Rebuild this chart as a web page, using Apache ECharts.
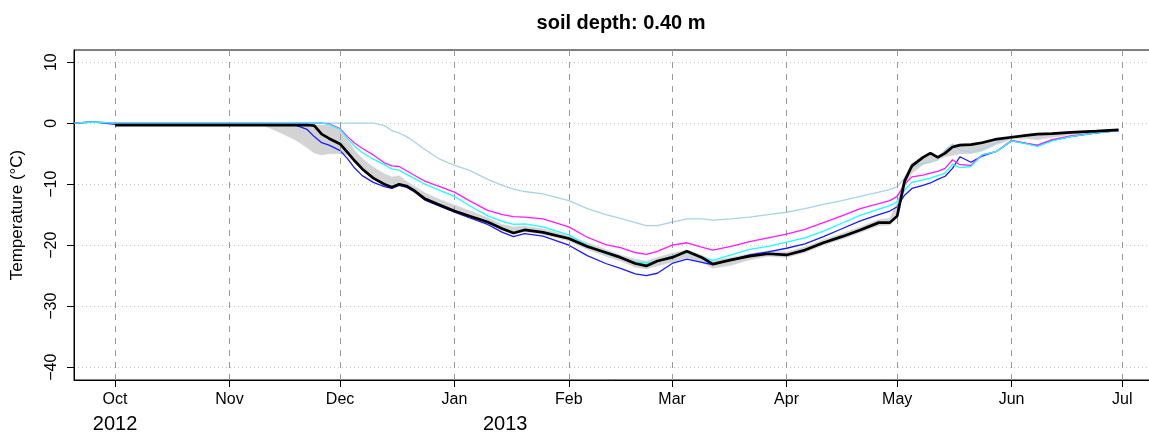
<!DOCTYPE html>
<html>
<head>
<meta charset="utf-8">
<title>soil depth: 0.40 m</title>
<script src="https://cdn.jsdelivr.net/npm/echarts@6/dist/echarts.min.js"></script>
<style>
    html, body { margin: 0; padding: 0; background: #fff; }
    #main { width: 1149px; height: 436px; }
</style>
</head>
<body>
<div id="main"></div>
<script>
// sample dates (UTC days)
var dates = ['2012-09-20', '2012-09-25', '2012-10-01', '2012-10-15', '2012-11-01', '2012-11-10', '2012-11-15',
    '2012-11-19', '2012-11-22', '2012-11-24', '2012-11-26', '2012-11-28', '2012-12-01', '2012-12-03',
    '2012-12-05', '2012-12-07', '2012-12-10', '2012-12-13', '2012-12-15', '2012-12-17', '2012-12-19',
    '2012-12-21', '2012-12-24', '2012-12-28', '2013-01-01', '2013-01-05', '2013-01-10', '2013-01-14',
    '2013-01-17', '2013-01-20', '2013-01-25', '2013-02-01', '2013-02-06', '2013-02-11', '2013-02-15',
    '2013-02-19', '2013-02-22', '2013-02-25', '2013-03-01', '2013-03-05', '2013-03-09', '2013-03-12',
    '2013-03-17', '2013-03-22', '2013-03-27', '2013-04-01', '2013-04-06', '2013-04-11', '2013-04-16',
    '2013-04-21', '2013-04-26', '2013-04-29', '2013-05-01', '2013-05-03', '2013-05-05', '2013-05-08',
    '2013-05-10', '2013-05-12', '2013-05-14', '2013-05-16', '2013-05-18', '2013-05-21', '2013-05-24',
    '2013-05-28', '2013-06-01', '2013-06-05', '2013-06-08', '2013-06-12', '2013-06-17', '2013-06-24',
    '2013-06-30'];

var observed = [null, null, -0.3, -0.3, -0.3, -0.3, -0.3,
    -0.3, -0.3, -0.4, -1.8, -2.5, -3.4, -4.8,
    -6.2, -7.5, -9.0, -10.0, -10.5, -10.0, -10.3,
    -11.0, -12.4, -13.4, -14.4, -15.2, -16.2, -17.3,
    -18.0, -17.5, -17.9, -18.9, -20.2, -21.2, -22.0,
    -23.0, -23.4, -22.6, -22.0, -21.0, -22.0, -23.1,
    -22.4, -21.8, -21.4, -21.6, -20.8, -19.6, -18.6,
    -17.5, -16.3, -16.3, -15.2, -9.5, -7.0, -5.6,
    -4.9, -5.6, -4.9, -3.9, -3.6, -3.5, -3.2,
    -2.6, -2.3, -2.0, -1.8, -1.7, -1.5, -1.3,
    -1.1];

var runBlue = [0, 0.2, -0.2, -0.3, -0.3, -0.3, -0.3,
    -0.3, -1.0, -2.2, -3.2, -3.6, -4.5, -5.8,
    -7.4, -8.6, -9.7, -10.4, -10.7, -10.2, -10.5,
    -11.2, -12.6, -13.6, -14.6, -15.5, -16.6, -17.9,
    -18.6, -18.1, -18.5, -20.0, -21.7, -23.0, -23.8,
    -24.7, -25.0, -24.6, -23.0, -22.3, -22.8, -23.2,
    -22.4, -21.6, -21.1, -20.5, -19.8, -18.6, -17.3,
    -16.0, -15.0, -14.4, -13.7, -11.8, -10.7, -10.2,
    -9.8, -9.2, -8.7, -7.4, -5.5, -6.4, -5.4,
    -4.6, -2.9, -3.3, -3.7, -2.8, -2.2, -1.6,
    -1.2];

var runMagenta = [0, 0.2, 0, 0, 0, 0, 0,
    0, 0, 0, 0, -0.1, -0.9, -2.2,
    -3.3, -4.1, -5.2, -6.5, -7.0, -7.1, -7.8,
    -8.5, -9.5, -10.4, -11.3, -12.7, -14.3, -15.0,
    -15.3, -15.4, -15.7, -17.0, -18.7, -19.9, -20.4,
    -21.2, -21.5, -21.0, -20.0, -19.6, -20.3, -20.8,
    -20.2, -19.4, -18.8, -18.2, -17.4, -16.3, -15.2,
    -14.0, -13.2, -12.7, -12.0, -10.0, -8.8, -8.5,
    -8.2, -7.9, -7.4, -6.0, -6.8, -6.9, -5.2,
    -4.6, -2.8, -3.3, -3.6, -2.7, -2.1, -1.6,
    -1.2];

var runCyan = [0, 0.2, 0, 0, 0, 0, 0,
    0, 0, 0, 0, -0.2, -1.0, -2.5,
    -3.8, -4.8, -5.9, -6.8, -7.5, -7.7, -8.4,
    -9.0, -10.0, -11.0, -12.0, -13.5, -15.2, -16.1,
    -16.6, -16.5, -17.0, -18.3, -20.0, -21.4, -22.1,
    -22.8, -22.9, -22.6, -21.8, -21.2, -22.0, -22.5,
    -21.6, -20.7, -20.2, -19.5, -18.8, -17.7, -16.4,
    -15.1, -14.1, -13.5, -12.9, -11.0, -9.7, -9.3,
    -9.0, -8.6, -8.2, -6.7, -7.3, -7.1, -5.2,
    -4.6, -2.9, -3.4, -3.8, -2.9, -2.2, -1.6,
    -1.2];

var runLightBlue = [0, 0.2, 0, 0, 0, 0, 0,
    0, 0, 0, 0, 0, 0, 0,
    0, 0, 0, -0.4, -1.2, -1.6, -2.2,
    -3.0, -4.3, -5.9, -6.9, -7.7, -9.2, -10.2,
    -10.8, -11.2, -11.6, -12.7, -14.0, -15.0, -15.6,
    -16.3, -16.8, -16.8, -16.2, -15.7, -15.7, -15.9,
    -15.7, -15.4, -15.0, -14.6, -14.0, -13.3, -12.7,
    -12.0, -11.3, -10.9, -10.4, -9.0, -7.2, -6.6,
    -6.4, -6.0, -4.4, -3.4, -4.4, -4.8, -4.2,
    -3.2, -2.3, -2.1, -2.0, -1.8, -1.6, -1.4,
    -1.2];

// ensemble range (grey band)
var bandLow = [null, null, null, null, null, -0.3, -1.6,
    -2.8, -4.0, -4.9, -5.2, -5.0, -5.0, -5.2,
    -6.3, -7.6, -9.1, -10.1, -10.6, -10.2, -10.5,
    -11.2, -12.6, -13.6, -14.6, -15.5, -16.6, -17.6,
    -18.2, -17.8, -18.2, -19.3, -20.7, -21.8, -22.6,
    -23.6, -23.9, -23.4, -22.8, -22.0, -22.8, -23.8,
    -23.3, -22.4, -21.8, -22.0, -21.2, -20.0, -19.0,
    -17.9, -16.8, -16.7, -15.5, -10.5, -8.2, -6.8,
    -6.4, -6.0, -5.5, -5.3, -5.0, -5.0, -4.6,
    -3.5, -2.6, -2.5, -2.7, -2.3, -1.9, -1.5,
    -1.2];

var bandHigh = [null, null, null, null, null, 0, 0,
    -0.2, -0.3, -0.3, -0.3, -0.3, -1.0, -2.6,
    -4.5, -5.8, -7.2, -8.3, -8.8, -8.6, -9.5,
    -10.3, -11.4, -12.5, -13.4, -14.3, -15.5, -16.6,
    -17.0, -16.9, -17.3, -18.4, -19.6, -20.7, -21.6,
    -22.3, -22.6, -22.0, -21.3, -20.8, -21.6, -22.5,
    -22.0, -21.4, -20.9, -21.1, -20.3, -19.1, -18.1,
    -17.0, -15.8, -15.6, -13.0, -8.8, -6.5, -5.4,
    -4.8, -5.3, -4.5, -3.6, -3.4, -3.3, -3.0,
    -2.5, -2.1, -1.9, -1.7, -1.6, -1.4, -1.2,
    -1.1];

var monthTicks = ['2012-10-01', '2012-11-01', '2012-12-01', '2013-01-01', '2013-02-01',
    '2013-03-01', '2013-04-01', '2013-05-01', '2013-06-01', '2013-07-01'];
var monthNames = ['Jan', 'Feb', 'Mar', 'Apr', 'May', 'Jun', 'Jul', 'Aug', 'Sep', 'Oct', 'Nov', 'Dec'];
var yearTicks = ['2012-10-01', '2013-01-14T18:00'];
var yTicks = [-40, -30, -20, -10, 0, 10];

var soilChart = (function () {
    var FONT = 'Liberation Sans, Arial, Helvetica, sans-serif';
    var Return = {
        init: function () {
            initChart();
        }
    }
    var utc = function (s) {
        var p = s.split('T');
        var d = p[0].split('-');
        var h = p[1] ? +p[1].split(':')[0] : 0;
        return Date.UTC(+d[0], +d[1] - 1, +d[2], h);
    }
    var pairs = function (arr) {
        return dates.map(function (d, i) { return [utc(d), arr[i]]; });
    }
    var lineSeries = function (name, arr, color, width, z) {
        return {
            name: name,
            type: 'line',
            data: pairs(arr),
            showSymbol: false,
            symbol: 'none',
            smooth: false,
            z: z,
            lineStyle: { color: color, width: width },
            itemStyle: { color: color }
        };
    }
    var initChart = function () {
        var myChart = echarts.init(document.getElementById('main'));
        var bandData = [];
        dates.forEach(function (d, i) {
            if (bandLow[i] !== null && bandHigh[i] !== null) {
                bandData.push([utc(d), bandLow[i], bandHigh[i]]);
            }
        });
        var monthVals = monthTicks.map(utc);
        var yearVals = yearTicks.map(utc);
        var xMin = utc('2012-09-19T21:00');
        var xMax = utc('2013-07-08T19:00');

        // grey range polygon: upper edge forward, lower edge back
        var renderBand = function (params, api) {
            if (params.dataIndex !== 0) {
                return null;
            }
            var pts = [];
            var i;
            for (i = 0; i < bandData.length; i++) {
                pts.push(api.coord([bandData[i][0], bandData[i][2]]));
            }
            for (i = bandData.length - 1; i >= 0; i--) {
                pts.push(api.coord([bandData[i][0], bandData[i][1]]));
            }
            return {
                type: 'polygon',
                shape: { points: pts },
                style: { fill: '#d3d3d3', stroke: '#d3d3d3', lineWidth: 0.5 }
            };
        }

        var option = {
            animation: false,
            backgroundColor: '#fff',
            title: {
                text: 'soil depth: 0.40 m',
                left: 616,
                top: 8,
                textAlign: 'center',
                textStyle: { fontFamily: FONT, fontSize: 20, fontWeight: 'bold', color: '#000' }
            },
            grid: {
                left: 74,
                right: -2,
                top: 50,
                bottom: 56,
                outerBoundsMode: 'none',
                containLabel: false,
                show: true,
                borderColor: '#000',
                borderWidth: 1,
                backgroundColor: 'transparent'
            },
            xAxis: [{
                type: 'value',
                min: xMin,
                max: xMax,
                axisLine: { onZero: false, lineStyle: { color: '#000', width: 1 } },
                axisTick: { show: true, length: 7, customValues: monthVals, lineStyle: { color: '#000' } },
                axisLabel: {
                    customValues: monthVals,
                    margin: 12,
                    fontFamily: FONT,
                    fontSize: 16,
                    color: '#000',
                    formatter: function (v) {
                        return monthNames[new Date(v).getUTCMonth()];
                    }
                },
                splitLine: { show: false }
            }, {
                type: 'value',
                position: 'bottom',
                min: xMin,
                max: xMax,
                axisLine: { show: false, onZero: false },
                axisTick: { show: false },
                axisLabel: {
                    customValues: yearVals,
                    margin: 34,
                    fontFamily: FONT,
                    fontSize: 20,
                    color: '#000',
                    formatter: function (v) {
                        return String(new Date(v).getUTCFullYear());
                    }
                },
                splitLine: { show: false }
            }],
            yAxis: {
                type: 'value',
                min: -42.1,
                max: 12,
                name: 'Temperature (°C)',
                nameLocation: 'middle',
                nameGap: 48,
                nameRotate: 90,
                nameTextStyle: { fontFamily: FONT, fontSize: 17, color: '#000' },
                axisLine: { show: true, lineStyle: { color: '#000', width: 1 } },
                axisTick: { show: true, length: 7, customValues: yTicks, lineStyle: { color: '#000' } },
                axisLabel: {
                    customValues: yTicks,
                    rotate: 90,
                    margin: 14,
                    fontFamily: FONT,
                    fontSize: 16,
                    color: '#000',
                    formatter: function (v) {
                        return v < 0 ? '\u2212' + Math.abs(v) : String(v);
                    }
                },
                splitLine: {
                    show: true,
                    lineStyle: { color: '#c8c8c8', width: 1, type: [1, 3] }
                }
            },
            series: [{
                name: 'range',
                type: 'custom',
                renderItem: renderBand,
                data: bandData,
                encode: { x: 0, y: [1, 2] },
                z: 1,
                silent: true,
                clip: true
            }, {
                name: 'months',
                type: 'line',
                data: [],
                z: 2,
                markLine: {
                    silent: true,
                    symbol: ['none', 'none'],
                    label: { show: false },
                    lineStyle: { color: '#9a9a9a', width: 1, type: [6, 6] },
                    data: monthVals.map(function (t) { return { xAxis: t }; })
                }
            },
                lineSeries('lightblue', runLightBlue, '#a6d4e6', 1.3, 3),
                lineSeries('blue', runBlue, '#1a1aff', 1.3, 4),
                lineSeries('magenta', runMagenta, '#ff1aff', 1.3, 5),
                lineSeries('cyan', runCyan, '#1affff', 1.3, 6),
                lineSeries('observed', observed, '#000', 2.7, 7)
            ]
        };
        myChart.setOption(option);
    }
    return Return;
})();

; (function () {
    soilChart.init();
})();
</script>
</body>
</html>
